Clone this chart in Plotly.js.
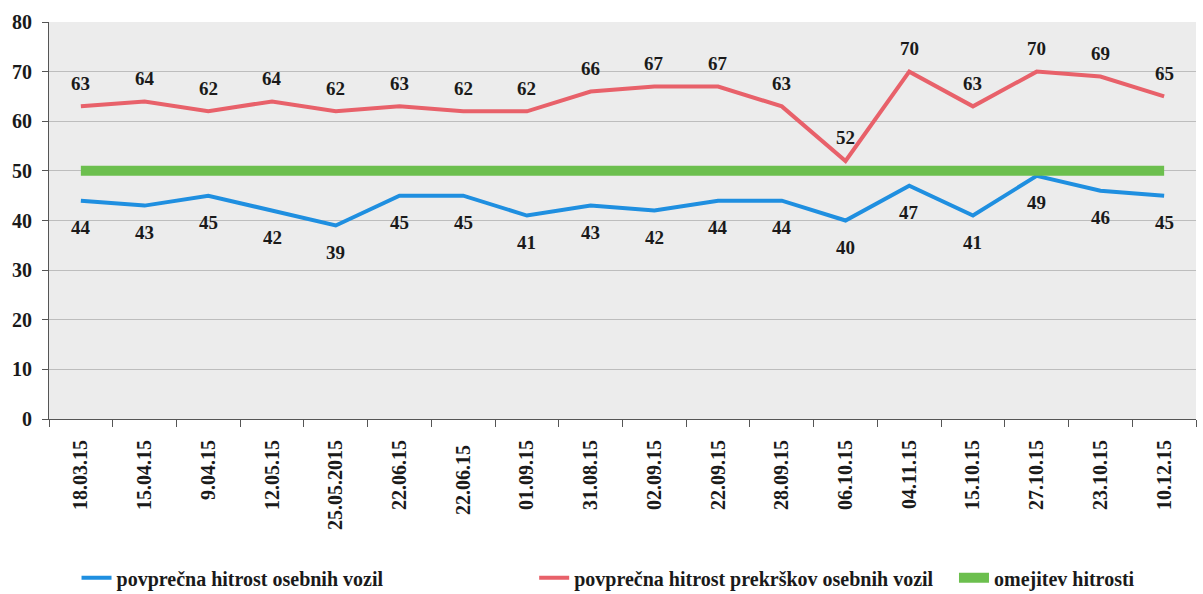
<!DOCTYPE html>
<html><head><meta charset="utf-8">
<script src="https://cdn.plot.ly/plotly-3.0.1.min.js"></script>
<style>body{margin:0;background:#fff}#c{width:1203px;height:594px}</style>
</head><body><div id="c"></div>
<script>
const categories = ["18.03.15","15.04.15","9.04.15","12.05.15","25.05.2015","22.06.15","22.06.15 ","01.09.15","31.08.15","02.09.15","22.09.15","28.09.15","06.10.15","04.11.15","15.10.15","27.10.15","23.10.15","10.12.15"];
const avgSpeed = [44,43,45,42,39,45,45,41,43,42,44,44,40,47,41,49,46,45];
const violationSpeed = [63,64,62,64,62,63,62,62,66,67,67,63,52,70,63,70,69,65];
const speedLimit = [50,50,50,50,50,50,50,50,50,50,50,50,50,50,50,50,50,50];
const yTicks = [0,10,20,30,40,50,60,70,80];
const seriesNames = ["povprečna hitrost osebnih vozil","povprečna hitrost prekrškov osebnih vozil","omejitev hitrosti"];

const fam = "Liberation Serif, serif";
function f(size){ return {family:fam, size:size, color:"#1a1a1a", weight:"bold"}; }

const traces = [
  {x:categories, y:avgSpeed, type:"scatter", mode:"lines", name:seriesNames[0], legend:"legend",
   line:{color:"#1f8fe0", width:4}},
  {x:categories, y:violationSpeed, type:"scatter", mode:"lines", name:seriesNames[1], legend:"legend2",
   line:{color:"#e8616a", width:4}},
  {x:categories, y:speedLimit, type:"scatter", mode:"lines", name:seriesNames[2], legend:"legend3",
   line:{color:"#6cbf4e", width:10}}
];
const annotations = [];
categories.forEach((c,i)=>{
  annotations.push({x:c, y:avgSpeed[i], xref:"x", yref:"y", text:String(avgSpeed[i]), showarrow:false, yshift:-27, font:f(19)});
  annotations.push({x:c, y:violationSpeed[i], xref:"x", yref:"y", text:String(violationSpeed[i]), showarrow:false, yshift:23, font:f(19)});
});
function leg(x){ return {orientation:"h", x:x, xanchor:"left", y:-0.40, yanchor:"middle", font:f(20),
  bgcolor:"rgba(0,0,0,0)", itemwidth:30, tracegroupgap:0}; }
const layout = {
  width:1203, height:594,
  font:{family:fam, color:"#1a1a1a", weight:"bold"},
  margin:{l:49, r:7, t:22, b:175, autoexpand:false},
  paper_bgcolor:"#ffffff", plot_bgcolor:"#ececec",
  showlegend:true,
  legend:leg(0.024), legend2:leg(0.423), legend3:leg(0.789),
  annotations:annotations,
  xaxis:{type:"category", range:[-0.5,17.5], tickangle:-90, ticks:"outside", tickson:"boundaries", ticklen:7, tickcolor:"#555",
         ticklabelstandoff:12, showline:true, linecolor:"#555", showgrid:false, tickfont:f(20), automargin:false},
  yaxis:{range:[0,80], tickvals:yTicks, ticks:"outside", ticklen:6, tickcolor:"#555", ticklabelstandoff:6,
         showline:true, linecolor:"#555", gridcolor:"#bdbdbd", gridwidth:1, zeroline:false,
         tickfont:f(20), automargin:false}
};
Plotly.newPlot("c", traces, layout, {displayModeBar:false, staticPlot:true});
</script></body></html>
